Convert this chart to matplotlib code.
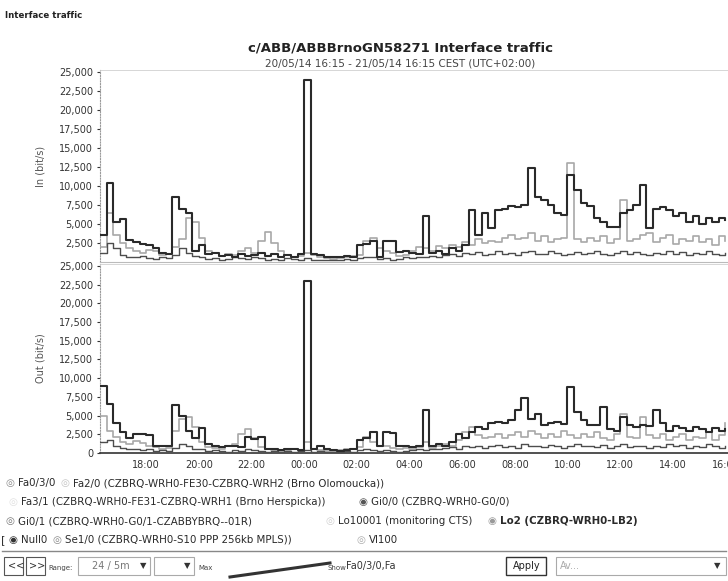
import numpy as np
import matplotlib
matplotlib.use("Agg")
import matplotlib.pyplot as plt
from matplotlib.patches import Rectangle
from matplotlib.ticker import FuncFormatter

# ---------------------------------------------------------------
# data: 15 minute samples, 20/05 16:15 -> 21/05 16:00 (hours from midnight 20/05)
start_hour = 16.25
step_hour = 0.25

in_main = [3500, 10400, 5200, 5600, 2900, 2600, 2400, 2200, 1800, 1200, 1000, 8500,
           7000, 6500, 1500, 2200, 1000, 1200, 800, 900, 700, 1000, 800, 900,
           1200, 800, 1000, 600, 900, 700, 1000, 24000, 1000, 900, 700, 600,
           700, 800, 700, 2200, 2400, 2800, 600, 2800, 2700, 1300, 1500, 1200,
           1000, 6000, 1200, 1500, 1000, 1800, 1400, 2200, 6800, 3500, 6500, 4500,
           6800, 7000, 7300, 7200, 7500, 12300, 8500, 8200, 7500, 6500, 6200, 11500,
           9500, 7800, 7400, 5800, 5200, 4600, 4600, 6500, 6800, 7500, 10100, 4500,
           7000, 7200, 6800, 6000, 6500, 5200, 6000, 5000, 5800, 5300, 5800, 5500]

in_second = [2000, 6500, 3500, 2500, 1800, 1500, 1200, 1600, 1400, 900, 1000, 2000,
             3000, 5800, 5300, 3200, 1500, 1200, 800, 1000, 900, 1400, 1800, 1200,
             2800, 3900, 2500, 1500, 900, 700, 800, 1200, 900, 600, 500, 400,
             500, 600, 800, 900, 2800, 3200, 1800, 1500, 1200, 800, 900, 1400,
             2000, 1800, 1500, 2100, 1800, 2300, 2000, 2600, 2200, 3000, 2500, 2800,
             2600, 3200, 3500, 3000, 3200, 3800, 2800, 3400, 2600, 3000, 3200, 13000,
             3000, 2600, 3200, 2800, 3400, 2500, 3000, 8200, 2800, 3000, 3500, 3800,
             2600, 3200, 3600, 2400, 3000, 2800, 3400, 2600, 3000, 2200, 3400, 2800]

in_low = [1200, 2500, 1800, 900, 700, 600, 800, 500, 400, 600, 500, 900,
          1800, 1200, 800, 600, 400, 500, 300, 400, 600, 500, 400, 700,
          500, 300, 400, 300, 500, 400, 300, 500, 300, 200, 300, 200,
          300, 400, 300, 500, 700, 600, 400, 500, 300, 400, 600, 500,
          700, 600, 800, 700, 900, 1000, 800, 1200, 1000, 1300, 900, 1100,
          1400, 1000, 1200, 900, 1300, 1500, 1100, 1000, 1400, 1200, 900, 1100,
          1300, 1000, 1200, 1500, 1100, 900, 1200, 1400, 1000, 1300, 1100, 900,
          1200, 1000, 1400, 1100, 1300, 900, 1200, 1000, 1500, 1100, 900, 1200]

out_main = [9000, 6600, 4000, 2800, 2000, 2500, 2600, 2400, 1000, 900, 1000, 6400,
            5000, 3000, 2000, 3300, 1200, 900, 800, 900, 1000, 800, 2100, 1900,
            2200, 500, 500, 400, 500, 600, 400, 23000, 600, 1000, 500, 400,
            300, 400, 500, 1700, 2000, 2800, 900, 2800, 2700, 900, 1000, 800,
            900, 5700, 1000, 1200, 900, 1500, 2500, 2000, 2800, 3500, 3200, 4000,
            4200, 4000, 4400, 5700, 7300, 4500, 5200, 3800, 4000, 4200, 3900, 8800,
            5500, 4400, 3700, 3700, 6100, 3200, 3000, 4800, 3700, 3500, 3800, 3600,
            5700, 4000, 3000, 3600, 3300, 3000, 3500, 3200, 2800, 3400, 3000, 3200]

out_second = [5000, 3000, 2200, 1500, 1200, 1600, 1300, 1000, 800, 600, 700, 3000,
              4500, 4800, 3500, 1500, 800, 700, 600, 900, 1200, 2600, 3200, 2000,
              800, 600, 400, 300, 400, 500, 300, 1500, 500, 400, 300, 300,
              400, 500, 600, 800, 2200, 1500, 1000, 900, 700, 600, 700, 500,
              800, 1500, 700, 900, 1200, 1000, 1800, 2800, 3500, 2400, 2000, 2200,
              2600, 2000, 2400, 2800, 2200, 3000, 2500, 2000, 2600, 2200, 3000, 2400,
              2000, 2600, 2200, 2800, 2000, 1800, 2500, 5200, 2200, 2000, 4800, 2400,
              2000, 2600, 1800, 2200, 2500, 1800, 2200, 2000, 2800, 1800, 2400, 4000]

out_low = [1500, 1800, 1000, 700, 500, 600, 400, 500, 300, 400, 300, 700,
           1200, 900, 600, 500, 300, 400, 300, 200, 400, 300, 500, 400,
           300, 200, 300, 200, 300, 200, 300, 400, 200, 300, 200, 200,
           200, 300, 200, 400, 500, 400, 300, 400, 300, 200, 300, 400,
           500, 400, 600, 500, 700, 800, 600, 900, 800, 1000, 700, 900,
           1100, 800, 1000, 700, 1200, 900, 1000, 800, 1100, 900, 700, 1000,
           1200, 900, 1000, 800, 1100, 700, 1000, 1200, 800, 1000, 900, 700,
           1000, 800, 1200, 900, 1100, 700, 1000, 800, 1200, 900, 700, 1000]

tick_hours = [18, 20, 22, 24, 26, 28, 30, 32, 34, 36, 38, 40]
tick_labels = ["18:00", "20:00", "22:00", "00:00", "02:00", "04:00",
               "06:00", "08:00", "10:00", "12:00", "14:00", "16:00"]

# legend rows: (icon x px, icon, icon colour, label, bold)
legend_rows = [
    [(5, "◎", "#8a8a8a", "Fa0/3/0", False),
     (60, "◎", "#c4c4c4", "Fa2/0 (CZBRQ-WRH0-FE30-CZBRQ-WRH2 (Brno Olomoucka))", False)],
    [(8, "◎", "#e0e0e0", "Fa3/1 (CZBRQ-WRH0-FE31-CZBRQ-WRH1 (Brno Herspicka))", False),
     (358, "◉", "#555555", "Gi0/0 (CZBRQ-WRH0-G0/0)", False)],
    [(5, "◎", "#777777", "Gi0/1 (CZBRQ-WRH0-G0/1-CZABBYBRQ--01R)", False),
     (325, "◎", "#d0d0d0", "Lo10001 (monitoring CTS)", False),
     (487, "◉", "#999999", "Lo2 (CZBRQ-WRH0-LB2)", True)],
    [(8, "◉", "#333333", "Null0", False),
     (52, "◎", "#888888", "Se1/0 (CZBRQ-WRH0-S10 PPP 256kb MPLS))", False),
     (356, "◎", "#aaaaaa", "Vl100", False)],
]

# ---------------------------------------------------------------
W, H = 728, 581
fig = plt.figure(figsize=(W / 100, H / 100), dpi=100)
plt.rcParams['font.family'] = ['DejaVu Sans']

t = start_hour + step_hour * np.arange(len(in_main))
x_end = start_hour + 24


def fx(px):
    return px / W


def fy(py):
    return 1 - py / H


ax_in = fig.add_axes([fx(100), fy(262), fx(632), 192 / H])
ax_out = fig.add_axes([fx(100), fy(453), fx(632), 189 / H])

yfmt = FuncFormatter(lambda v, p: "{:,}".format(int(v)))

for ax, main, second, low, label in [(ax_in, in_main, in_second, in_low, "In (bit/s)"),
                                     (ax_out, out_main, out_second, out_low, "Out (bit/s)")]:
    ax.step(t, second, where='post', color='#a8a8a8', lw=1.2, zorder=2)
    ax.step(t, low, where='post', color='#4d4d4d', lw=1.0, zorder=3)
    ax.step(t, main, where='post', color='#2a2a2a', lw=1.5, zorder=4)
    ax.set_xlim(start_hour, x_end)
    ax.set_ylim(0, 25250)
    ax.yaxis.set_major_formatter(yfmt)
    ax.tick_params(axis='y', labelsize=7, length=2, colors='#333333', pad=3)
    ax.set_ylabel(label, fontsize=7, color='#555555', labelpad=10)
    for s in ['top', 'right']:
        ax.spines[s].set_color('#d0d0d0')
        ax.spines[s].set_linewidth(0.6)
    ax.spines['left'].set_color('#9a9a9a')
    ax.spines['left'].set_linestyle((0, (1, 1.5)))
    ax.spines['bottom'].set_color('#bbbbbb')
    ax.spines['bottom'].set_linewidth(0.8)

ax_in.set_yticks(np.arange(2500, 25001, 2500))
ax_in.set_xticks([])
ax_out.set_yticks(np.arange(0, 25001, 2500))
ax_out.set_xticks(tick_hours)
ax_out.set_xticklabels(tick_labels)
ax_out.tick_params(axis='x', labelsize=7, length=0, colors='#333333', pad=5)
ax_out.spines['bottom'].set_color('#333333')
ax_out.spines['bottom'].set_linewidth(1.2)

# titles
fig.text(fx(5), fy(15), "Interface traffic", fontsize=6.2, fontweight='bold',
         color='#222222', va='center')
fig.text(fx(400), fy(48), "c/ABB/ABBBrnoGN58271 Interface traffic", fontsize=9.5,
         fontweight='bold', color='#222222', ha='center', va='center')
fig.text(fx(400), fy(63), "20/05/14 16:15 - 21/05/14 16:15 CEST (UTC+02:00)", fontsize=7.5,
         color='#444444', ha='center', va='center')

# legend rows
for row, py in zip(legend_rows, [483, 502, 521, 540]):
    for px, icon, col, txt, bold in row:
        fig.text(fx(px), fy(py), icon, fontsize=7.4, va='center', color=col)
        fig.text(fx(px + 13), fy(py), txt, fontsize=7.4, va='center', color='#2a2a2a',
                 fontweight='bold' if bold else 'normal')
fig.text(fx(1), fy(540), "[", fontsize=8, va='center', color='#333333')

# control strip
fig.add_artist(plt.Line2D([fx(2), fx(726)], [fy(551), fy(551)], color='#888888', lw=1.0))
fig.add_artist(plt.Line2D([fx(230), fx(330)], [fy(577), fy(563)], color='#333333', lw=2.2))


def box(x0, y0, w, h, lw=0.8, col='#555555'):
    fig.add_artist(Rectangle((fx(x0), fy(y0 + h)), w / W, h / H, fill=False,
                             edgecolor=col, lw=lw, transform=fig.transFigure))


box(4, 557, 19, 18)
box(26, 557, 19, 18)
box(78, 557, 72, 18, col='#aaaaaa')
box(154, 557, 40, 18, col='#aaaaaa')
box(506, 557, 40, 18, lw=1.0, col='#333333')
box(556, 557, 170, 18, col='#aaaaaa')

ctrl_y = fy(566)
fig.text(fx(8), ctrl_y, "<<", fontsize=7, va='center', color='#333333')
fig.text(fx(29), ctrl_y, ">>", fontsize=7, va='center', color='#333333')
fig.text(fx(48), fy(568), "Range:", fontsize=5, va='center', color='#444444')
fig.text(fx(92), ctrl_y, "24 / 5m", fontsize=7, va='center', color='#777777')
fig.text(fx(140), ctrl_y, "▼", fontsize=6, va='center', color='#333333')
fig.text(fx(184), ctrl_y, "▼", fontsize=6, va='center', color='#333333')
fig.text(fx(198), fy(568), "Max", fontsize=5, va='center', color='#444444')
fig.text(fx(328), fy(568), "Show", fontsize=5, va='center', color='#444444')
fig.text(fx(346), ctrl_y, "Fa0/3/0,Fa", fontsize=7, va='center', color='#333333')
fig.text(fx(513), ctrl_y, "Apply", fontsize=7, va='center', color='#222222')
fig.text(fx(560), ctrl_y, "Av...", fontsize=7, va='center', color='#aaaaaa')
fig.text(fx(714), ctrl_y, "▼", fontsize=6, va='center', color='#333333')

fig.savefig("out.png", dpi=100)
